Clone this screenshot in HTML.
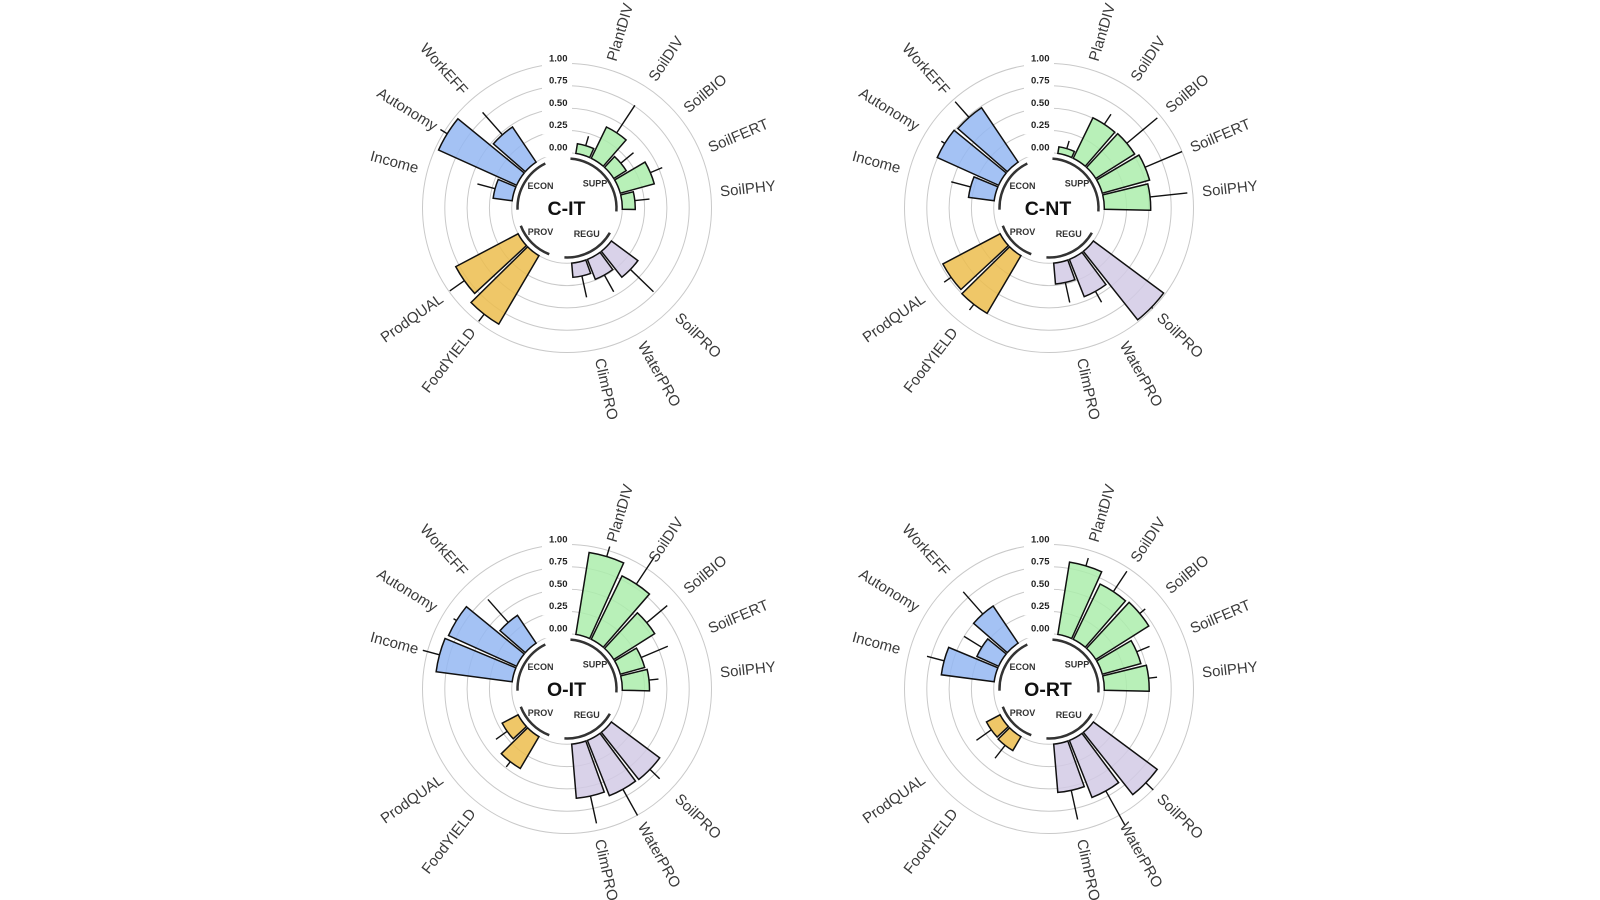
<!DOCTYPE html>
<html>
<head>
<meta charset="utf-8">
<style>
  html, body { margin: 0; padding: 0; background: #ffffff; }
  svg { display: block; }
  .g circle { fill: none; stroke: #c9c9c9; stroke-width: 1; }
  .bk { fill: #ffffff; stroke: none; }
  .tk { font-family: "Liberation Sans", Arial, sans-serif; font-weight: bold; font-size: 9.5px; fill: #222; text-anchor: end; }
  .e path { fill: #94b7f2; fill-opacity: 0.85; stroke: #111; stroke-width: 1.5; stroke-linejoin: miter; }
  .s path { fill: #acedac; fill-opacity: 0.85; stroke: #111; stroke-width: 1.5; }
  .r path { fill: #d2cae5; fill-opacity: 0.85; stroke: #111; stroke-width: 1.5; }
  .p path { fill: #ecbd4d; fill-opacity: 0.85; stroke: #111; stroke-width: 1.5; }
  line { stroke: #111; stroke-width: 1.4; }
  .arc path { fill: none; stroke: #333; stroke-width: 2.5; }
  .gl { font-family: "Liberation Sans", Arial, sans-serif; font-weight: bold; font-size: 9px; fill: #333; text-anchor: middle; }
  .ti { font-family: "Liberation Sans", Arial, sans-serif; font-weight: bold; font-size: 19.5px; fill: #111; text-anchor: middle; }
  .lb { font-family: "Liberation Sans", Arial, sans-serif; font-size: 15px; fill: #3a3a3a; }
  .lb .L { text-anchor: end; }
</style>
</head>
<body>
<svg width="1600" height="900" viewBox="0 0 1600 900" xmlns="http://www.w3.org/2000/svg">
<rect x="0" y="0" width="1600" height="900" fill="#ffffff"/>

<!-- ================= CHART 1 : C-IT ================= -->
<g transform="translate(567,208)">
  <g class="g">
    <circle r="55.3"/><circle r="77.6"/><circle r="99.9"/><circle r="122.2"/><circle r="144.5"/>
  </g>
  <rect class="bk" x="-25" y="-154" width="30" height="13.5"/>
  <rect class="bk" x="-25" y="-131.7" width="30" height="13.5"/>
  <rect class="bk" x="-25" y="-109.4" width="30" height="13.5"/>
  <rect class="bk" x="-25" y="-87.1" width="30" height="13.5"/>
  <rect class="bk" x="-25" y="-64.8" width="30" height="14"/>
  <text class="tk" x="0.5" y="-146.7">1.00</text>
  <text class="tk" x="0.5" y="-124.4">0.75</text>
  <text class="tk" x="0.5" y="-102.1">0.50</text>
  <text class="tk" x="0.5" y="-79.8">0.25</text>
  <text class="tk" x="0.5" y="-57.5">0.00</text>

  <g class="s">
    <g transform="rotate(16.7)"><path d="M-7.22,-54.83L-8.50,-64.55A65.11,65.11 0 0 1 8.50,-64.55L7.22,-54.83A55.3,55.3 0 0 0 -7.22,-54.83Z"/><line x1="0" y1="-65.11" x2="0" y2="-74.92"/></g>
    <g transform="rotate(33.47)"><path d="M-7.22,-54.83L-11.76,-89.32A90.09,90.09 0 0 1 11.76,-89.32L7.22,-54.83A55.3,55.3 0 0 0 -7.22,-54.83Z"/><line x1="0" y1="-90.09" x2="0" y2="-123.09"/></g>
    <g transform="rotate(50.24)"><path d="M-7.22,-54.83L-9.14,-69.42A70.02,70.02 0 0 1 9.14,-69.42L7.22,-54.83A55.3,55.3 0 0 0 -7.22,-54.83Z"/><line x1="0" y1="-70.02" x2="0" y2="-86.52"/></g>
    <g transform="rotate(67.01)"><path d="M-7.22,-54.83L-11.82,-89.76A90.53,90.53 0 0 1 11.82,-89.76L7.22,-54.83A55.3,55.3 0 0 0 -7.22,-54.83Z"/><line x1="0" y1="-90.53" x2="0" y2="-103.47"/></g>
    <g transform="rotate(83.78)"><path d="M-7.22,-54.83L-8.91,-67.65A68.23,68.23 0 0 1 8.91,-67.65L7.22,-54.83A55.3,55.3 0 0 0 -7.22,-54.83Z"/><line x1="0" y1="-68.23" x2="0" y2="-82.95"/></g>
  </g>
  <g class="r">
    <g transform="rotate(134.09)"><path d="M-7.22,-54.83L-11.53,-87.54A88.3,88.3 0 0 1 11.53,-87.54L7.22,-54.83A55.3,55.3 0 0 0 -7.22,-54.83Z"/><line x1="0" y1="-88.3" x2="0" y2="-120.42"/></g>
    <g transform="rotate(150.86)"><path d="M-7.22,-54.83L-10.01,-76.05A76.71,76.71 0 0 1 10.01,-76.05L7.22,-54.83A55.3,55.3 0 0 0 -7.22,-54.83Z"/><line x1="0" y1="-76.71" x2="0" y2="-95.89"/></g>
    <g transform="rotate(167.63)"><path d="M-7.22,-54.83L-9.08,-68.97A69.57,69.57 0 0 1 9.08,-68.97L7.22,-54.83A55.3,55.3 0 0 0 -7.22,-54.83Z"/><line x1="0" y1="-69.57" x2="0" y2="-91.43"/></g>
  </g>
  <g class="p">
    <g transform="rotate(217.94)"><path d="M-7.22,-54.83L-17.58,-133.54A134.69,134.69 0 0 1 17.58,-133.54L7.22,-54.83A55.3,55.3 0 0 0 -7.22,-54.83Z"/><line x1="0" y1="-134.69" x2="0" y2="-143.61"/></g>
    <g transform="rotate(234.71)"><path d="M-7.22,-54.83L-16.42,-124.69A125.77,125.77 0 0 1 16.42,-124.69L7.22,-54.83A55.3,55.3 0 0 0 -7.22,-54.83Z"/><line x1="0" y1="-125.77" x2="0" y2="-143.61"/></g>
  </g>
  <g class="e">
    <g transform="rotate(285.02)"><path d="M-7.22,-54.83L-9.72,-73.84A74.48,74.48 0 0 1 9.72,-73.84L7.22,-54.83A55.3,55.3 0 0 0 -7.22,-54.83Z"/><line x1="0" y1="-74.48" x2="0" y2="-92.76"/></g>
    <g transform="rotate(301.79)"><path d="M-7.22,-54.83L-18.40,-139.72A140.93,140.93 0 0 1 18.40,-139.72L7.22,-54.83A55.3,55.3 0 0 0 -7.22,-54.83Z"/><line x1="0" y1="-140.93" x2="0" y2="-148.96"/></g>
    <g transform="rotate(318.56)"><path d="M-7.22,-54.83L-12.75,-96.83A97.67,97.67 0 0 1 12.75,-96.83L7.22,-54.83A55.3,55.3 0 0 0 -7.22,-54.83Z"/><line x1="0" y1="-97.67" x2="0" y2="-127.55"/></g>
  </g>

  <g class="arc">
    <path transform="rotate(49)" d="M-35,-35A49.5,49.5 0 0 1 35,-35"/>
    <path transform="rotate(151.5)" d="M-25.86,-42.21A49.5,49.5 0 0 1 25.86,-42.21"/>
    <path transform="rotate(225)" d="M-20.13,-45.22A49.5,49.5 0 0 1 20.13,-45.22"/>
    <path transform="rotate(301)" d="M-26.96,-41.51A49.5,49.5 0 0 1 26.96,-41.51"/>
  </g>
  <text class="gl" x="-26.5" y="-18.8">ECON</text>
  <text class="gl" x="28" y="-21.4">SUPP</text>
  <text class="gl" x="-26.5" y="27">PROV</text>
  <text class="gl" x="19.7" y="29.2">REGU</text>
  <text class="ti" x="-0.5" y="6.8">C-IT</text>

  <g class="lb">
    <text transform="rotate(-73.3)" x="154" y="0" dy="0.35em">PlantDIV</text>
    <text transform="rotate(-56.53)" x="154" y="0" dy="0.35em">SoilDIV</text>
    <text transform="rotate(-39.76)" x="154" y="0" dy="0.35em">SoilBIO</text>
    <text transform="rotate(-22.99)" x="154" y="0" dy="0.35em">SoilFERT</text>
    <text transform="rotate(-6.22)" x="154" y="0" dy="0.35em">SoilPHY</text>
    <text transform="rotate(44.09)" x="154" y="0" dy="0.35em">SoilPRO</text>
    <text transform="rotate(60.86)" x="154" y="0" dy="0.35em">WaterPRO</text>
    <text transform="rotate(77.63)" x="154" y="0" dy="0.35em">ClimPRO</text>
    <text class="L" transform="rotate(-52.06)" x="-154" y="0" dy="0.35em">FoodYIELD</text>
    <text class="L" transform="rotate(-35.29)" x="-154" y="0" dy="0.35em">ProdQUAL</text>
    <text class="L" transform="rotate(15.02)" x="-154" y="0" dy="0.35em">Income</text>
    <text class="L" transform="rotate(31.79)" x="-154" y="0" dy="0.35em">Autonomy</text>
    <text class="L" transform="rotate(48.56)" x="-154" y="0" dy="0.35em">WorkEFF</text>
  </g>
</g>

<!-- ================= CHART 2 : C-NT ================= -->
<g transform="translate(1049,208)">
  <g class="g">
    <circle r="55.3"/><circle r="77.6"/><circle r="99.9"/><circle r="122.2"/><circle r="144.5"/>
  </g>
  <rect class="bk" x="-25" y="-154" width="30" height="13.5"/>
  <rect class="bk" x="-25" y="-131.7" width="30" height="13.5"/>
  <rect class="bk" x="-25" y="-109.4" width="30" height="13.5"/>
  <rect class="bk" x="-25" y="-87.1" width="30" height="13.5"/>
  <rect class="bk" x="-25" y="-64.8" width="30" height="14"/>
  <text class="tk" x="0.5" y="-146.7">1.00</text>
  <text class="tk" x="0.5" y="-124.4">0.75</text>
  <text class="tk" x="0.5" y="-102.1">0.50</text>
  <text class="tk" x="0.5" y="-79.8">0.25</text>
  <text class="tk" x="0.5" y="-57.5">0.00</text>

  <g class="s">
    <g transform="rotate(16.7)"><path d="M-7.22,-54.83L-8.09,-61.46A61.99,61.99 0 0 1 8.09,-61.46L7.22,-54.83A55.3,55.3 0 0 0 -7.22,-54.83Z"/><line x1="0" y1="-61.99" x2="0" y2="-70.02"/></g>
    <g transform="rotate(33.47)"><path d="M-7.22,-54.83L-13.10,-99.49A100.35,100.35 0 0 1 13.10,-99.49L7.22,-54.83A55.3,55.3 0 0 0 -7.22,-54.83Z"/><line x1="0" y1="-100.35" x2="0" y2="-112.39"/></g>
    <g transform="rotate(50.24)"><path d="M-7.22,-54.83L-13.21,-100.37A101.24,101.24 0 0 1 13.21,-100.37L7.22,-54.83A55.3,55.3 0 0 0 -7.22,-54.83Z"/><line x1="0" y1="-101.24" x2="0" y2="-140.93"/></g>
    <g transform="rotate(67.01)"><path d="M-7.22,-54.83L-13.62,-103.47A104.36,104.36 0 0 1 13.62,-103.47L7.22,-54.83A55.3,55.3 0 0 0 -7.22,-54.83Z"/><line x1="0" y1="-104.36" x2="0" y2="-144.5"/></g>
    <g transform="rotate(83.78)"><path d="M-7.22,-54.83L-13.27,-100.81A101.68,101.68 0 0 1 13.27,-100.81L7.22,-54.83A55.3,55.3 0 0 0 -7.22,-54.83Z"/><line x1="0" y1="-101.68" x2="0" y2="-139.15"/></g>
  </g>
  <g class="r">
    <g transform="rotate(134.09)"><path d="M-7.22,-54.83L-18.63,-141.50A142.72,142.72 0 0 1 18.63,-141.50L7.22,-54.83A55.3,55.3 0 0 0 -7.22,-54.83Z"/><line x1="0" y1="-142.72" x2="0" y2="-144.3"/></g>
    <g transform="rotate(150.86)"><path d="M-7.22,-54.83L-12.46,-94.62A95.44,95.44 0 0 1 12.46,-94.62L7.22,-54.83A55.3,55.3 0 0 0 -7.22,-54.83Z"/><line x1="0" y1="-95.44" x2="0" y2="-107.93"/></g>
    <g transform="rotate(167.63)"><path d="M-7.22,-54.83L-9.95,-75.61A76.26,76.26 0 0 1 9.95,-75.61L7.22,-54.83A55.3,55.3 0 0 0 -7.22,-54.83Z"/><line x1="0" y1="-76.26" x2="0" y2="-96.78"/></g>
  </g>
  <g class="p">
    <g transform="rotate(217.94)"><path d="M-7.22,-54.83L-15.95,-121.15A122.2,122.2 0 0 1 15.95,-121.15L7.22,-54.83A55.3,55.3 0 0 0 -7.22,-54.83Z"/><line x1="0" y1="-122.2" x2="0" y2="-129.34"/></g>
    <g transform="rotate(234.71)"><path d="M-7.22,-54.83L-15.66,-118.94A119.97,119.97 0 0 1 15.66,-118.94L7.22,-54.83A55.3,55.3 0 0 0 -7.22,-54.83Z"/><line x1="0" y1="-119.97" x2="0" y2="-128.44"/></g>
  </g>
  <g class="e">
    <g transform="rotate(285.02)"><path d="M-7.22,-54.83L-10.60,-80.48A81.17,81.17 0 0 1 10.60,-80.48L7.22,-54.83A55.3,55.3 0 0 0 -7.22,-54.83Z"/><line x1="0" y1="-81.17" x2="0" y2="-101.24"/></g>
    <g transform="rotate(301.79)"><path d="M-7.22,-54.83L-16.01,-121.60A122.65,122.65 0 0 1 16.01,-121.60L7.22,-54.83A55.3,55.3 0 0 0 -7.22,-54.83Z"/><line x1="0" y1="-122.65" x2="0" y2="-126.66"/></g>
    <g transform="rotate(318.56)"><path d="M-7.22,-54.83L-15.78,-119.83A120.86,120.86 0 0 1 15.78,-119.83L7.22,-54.83A55.3,55.3 0 0 0 -7.22,-54.83Z"/><line x1="0" y1="-120.86" x2="0" y2="-141.82"/></g>
  </g>

  <g class="arc">
    <path transform="rotate(49)" d="M-35,-35A49.5,49.5 0 0 1 35,-35"/>
    <path transform="rotate(151.5)" d="M-25.86,-42.21A49.5,49.5 0 0 1 25.86,-42.21"/>
    <path transform="rotate(225)" d="M-20.13,-45.22A49.5,49.5 0 0 1 20.13,-45.22"/>
    <path transform="rotate(301)" d="M-26.96,-41.51A49.5,49.5 0 0 1 26.96,-41.51"/>
  </g>
  <text class="gl" x="-26.5" y="-18.8">ECON</text>
  <text class="gl" x="28" y="-21.4">SUPP</text>
  <text class="gl" x="-26.5" y="27">PROV</text>
  <text class="gl" x="19.7" y="29.2">REGU</text>
  <text class="ti" x="-1" y="6.8">C-NT</text>

  <g class="lb">
    <text transform="rotate(-73.3)" x="154" y="0" dy="0.35em">PlantDIV</text>
    <text transform="rotate(-56.53)" x="154" y="0" dy="0.35em">SoilDIV</text>
    <text transform="rotate(-39.76)" x="154" y="0" dy="0.35em">SoilBIO</text>
    <text transform="rotate(-22.99)" x="154" y="0" dy="0.35em">SoilFERT</text>
    <text transform="rotate(-6.22)" x="154" y="0" dy="0.35em">SoilPHY</text>
    <text transform="rotate(44.09)" x="154" y="0" dy="0.35em">SoilPRO</text>
    <text transform="rotate(60.86)" x="154" y="0" dy="0.35em">WaterPRO</text>
    <text transform="rotate(77.63)" x="154" y="0" dy="0.35em">ClimPRO</text>
    <text class="L" transform="rotate(-52.06)" x="-154" y="0" dy="0.35em">FoodYIELD</text>
    <text class="L" transform="rotate(-35.29)" x="-154" y="0" dy="0.35em">ProdQUAL</text>
    <text class="L" transform="rotate(15.02)" x="-154" y="0" dy="0.35em">Income</text>
    <text class="L" transform="rotate(31.79)" x="-154" y="0" dy="0.35em">Autonomy</text>
    <text class="L" transform="rotate(48.56)" x="-154" y="0" dy="0.35em">WorkEFF</text>
  </g>
</g>

<!-- ================= CHART 3 : O-IT ================= -->
<g transform="translate(567,689)">
  <g class="g">
    <circle r="55.3"/><circle r="77.6"/><circle r="99.9"/><circle r="122.2"/><circle r="144.5"/>
  </g>
  <rect class="bk" x="-25" y="-154" width="30" height="13.5"/>
  <rect class="bk" x="-25" y="-131.7" width="30" height="13.5"/>
  <rect class="bk" x="-25" y="-109.4" width="30" height="13.5"/>
  <rect class="bk" x="-25" y="-87.1" width="30" height="13.5"/>
  <rect class="bk" x="-25" y="-64.8" width="30" height="14"/>
  <text class="tk" x="0.5" y="-146.7">1.00</text>
  <text class="tk" x="0.5" y="-124.4">0.75</text>
  <text class="tk" x="0.5" y="-102.1">0.50</text>
  <text class="tk" x="0.5" y="-79.8">0.25</text>
  <text class="tk" x="0.5" y="-57.5">0.00</text>

  <g class="s">
    <g transform="rotate(16.7)"><path d="M-7.22,-54.83L-18.05,-137.08A138.26,138.26 0 0 1 18.05,-137.08L7.22,-54.83A55.3,55.3 0 0 0 -7.22,-54.83Z"/><line x1="0" y1="-138.26" x2="0" y2="-148.7"/></g>
    <g transform="rotate(33.47)"><path d="M-7.22,-54.83L-16.42,-124.69A125.77,125.77 0 0 1 16.42,-124.69L7.22,-54.83A55.3,55.3 0 0 0 -7.22,-54.83Z"/><line x1="0" y1="-125.77" x2="0" y2="-158"/></g>
    <g transform="rotate(50.24)"><path d="M-7.22,-54.83L-13.54,-102.81A103.7,103.7 0 0 1 13.54,-102.81L7.22,-54.83A55.3,55.3 0 0 0 -7.22,-54.83Z"/><line x1="0" y1="-103.7" x2="0" y2="-130.4"/></g>
    <g transform="rotate(67.01)"><path d="M-7.22,-54.83L-10.52,-79.91A80.6,80.6 0 0 1 10.52,-79.91L7.22,-54.83A55.3,55.3 0 0 0 -7.22,-54.83Z"/><line x1="0" y1="-80.6" x2="0" y2="-109.5"/></g>
    <g transform="rotate(83.78)"><path d="M-7.22,-54.83L-10.77,-81.79A82.5,82.5 0 0 1 10.77,-81.79L7.22,-54.83A55.3,55.3 0 0 0 -7.22,-54.83Z"/><line x1="0" y1="-82.5" x2="0" y2="-92"/></g>
  </g>
  <g class="r">
    <g transform="rotate(134.09)"><path d="M-7.22,-54.83L-15.08,-114.51A115.5,115.5 0 0 1 15.08,-114.51L7.22,-54.83A55.3,55.3 0 0 0 -7.22,-54.83Z"/><line x1="0" y1="-115.5" x2="0" y2="-129"/></g>
    <g transform="rotate(150.86)"><path d="M-7.22,-54.83L-14.98,-113.82A114.8,114.8 0 0 1 14.98,-113.82L7.22,-54.83A55.3,55.3 0 0 0 -7.22,-54.83Z"/><line x1="0" y1="-114.8" x2="0" y2="-144.8"/></g>
    <g transform="rotate(167.63)"><path d="M-7.22,-54.83L-14.31,-108.66A109.6,109.6 0 0 1 14.31,-108.66L7.22,-54.83A55.3,55.3 0 0 0 -7.22,-54.83Z"/><line x1="0" y1="-109.6" x2="0" y2="-137.6"/></g>
  </g>
  <g class="p">
    <g transform="rotate(217.94)"><path d="M-7.22,-54.83L-12.03,-91.41A92.2,92.2 0 0 1 12.03,-91.41L7.22,-54.83A55.3,55.3 0 0 0 -7.22,-54.83Z"/><line x1="0" y1="-92.2" x2="0" y2="-98.8"/></g>
    <g transform="rotate(234.71)"><path d="M-7.22,-54.83L-9.57,-72.67A73.3,73.3 0 0 1 9.57,-72.67L7.22,-54.83A55.3,55.3 0 0 0 -7.22,-54.83Z"/><line x1="0" y1="-73.3" x2="0" y2="-87"/></g>
  </g>
  <g class="e">
    <g transform="rotate(285.02)"><path d="M-7.22,-54.83L-17.23,-130.87A132,132 0 0 1 17.23,-130.87L7.22,-54.83A55.3,55.3 0 0 0 -7.22,-54.83Z"/><line x1="0" y1="-132" x2="0" y2="-149.3"/></g>
    <g transform="rotate(301.79)"><path d="M-7.22,-54.83L-16.97,-128.89A130,130 0 0 1 16.97,-128.89L7.22,-54.83A55.3,55.3 0 0 0 -7.22,-54.83Z"/><line x1="0" y1="-130" x2="0" y2="-133.5"/></g>
    <g transform="rotate(318.56)"><path d="M-7.22,-54.83L-11.59,-88.04A88.8,88.8 0 0 1 11.59,-88.04L7.22,-54.83A55.3,55.3 0 0 0 -7.22,-54.83Z"/><line x1="0" y1="-88.8" x2="0" y2="-119.5"/></g>
  </g>

  <g class="arc">
    <path transform="rotate(49)" d="M-35,-35A49.5,49.5 0 0 1 35,-35"/>
    <path transform="rotate(151.5)" d="M-25.86,-42.21A49.5,49.5 0 0 1 25.86,-42.21"/>
    <path transform="rotate(225)" d="M-20.13,-45.22A49.5,49.5 0 0 1 20.13,-45.22"/>
    <path transform="rotate(301)" d="M-26.96,-41.51A49.5,49.5 0 0 1 26.96,-41.51"/>
  </g>
  <text class="gl" x="-26.5" y="-18.8">ECON</text>
  <text class="gl" x="28" y="-21.4">SUPP</text>
  <text class="gl" x="-26.5" y="27">PROV</text>
  <text class="gl" x="19.7" y="29.2">REGU</text>
  <text class="ti" x="-0.5" y="6.8">O-IT</text>

  <g class="lb">
    <text transform="rotate(-73.3)" x="154" y="0" dy="0.35em">PlantDIV</text>
    <text transform="rotate(-56.53)" x="154" y="0" dy="0.35em">SoilDIV</text>
    <text transform="rotate(-39.76)" x="154" y="0" dy="0.35em">SoilBIO</text>
    <text transform="rotate(-22.99)" x="154" y="0" dy="0.35em">SoilFERT</text>
    <text transform="rotate(-6.22)" x="154" y="0" dy="0.35em">SoilPHY</text>
    <text transform="rotate(44.09)" x="154" y="0" dy="0.35em">SoilPRO</text>
    <text transform="rotate(60.86)" x="154" y="0" dy="0.35em">WaterPRO</text>
    <text transform="rotate(77.63)" x="154" y="0" dy="0.35em">ClimPRO</text>
    <text class="L" transform="rotate(-52.06)" x="-154" y="0" dy="0.35em">FoodYIELD</text>
    <text class="L" transform="rotate(-35.29)" x="-154" y="0" dy="0.35em">ProdQUAL</text>
    <text class="L" transform="rotate(15.02)" x="-154" y="0" dy="0.35em">Income</text>
    <text class="L" transform="rotate(31.79)" x="-154" y="0" dy="0.35em">Autonomy</text>
    <text class="L" transform="rotate(48.56)" x="-154" y="0" dy="0.35em">WorkEFF</text>
  </g>
</g>

<!-- ================= CHART 4 : O-RT ================= -->
<g transform="translate(1049,689)">
  <g class="g">
    <circle r="55.3"/><circle r="77.6"/><circle r="99.9"/><circle r="122.2"/><circle r="144.5"/>
  </g>
  <rect class="bk" x="-25" y="-154" width="30" height="13.5"/>
  <rect class="bk" x="-25" y="-131.7" width="30" height="13.5"/>
  <rect class="bk" x="-25" y="-109.4" width="30" height="13.5"/>
  <rect class="bk" x="-25" y="-87.1" width="30" height="13.5"/>
  <rect class="bk" x="-25" y="-64.8" width="30" height="14"/>
  <text class="tk" x="0.5" y="-146.7">1.00</text>
  <text class="tk" x="0.5" y="-124.4">0.75</text>
  <text class="tk" x="0.5" y="-102.1">0.50</text>
  <text class="tk" x="0.5" y="-79.8">0.25</text>
  <text class="tk" x="0.5" y="-57.5">0.00</text>

  <g class="s">
    <g transform="rotate(16.7)"><path d="M-7.22,-54.83L-16.77,-127.40A128.5,128.5 0 0 1 16.77,-127.40L7.22,-54.83A55.3,55.3 0 0 0 -7.22,-54.83Z"/><line x1="0" y1="-128.5" x2="0" y2="-136.7"/></g>
    <g transform="rotate(33.47)"><path d="M-7.22,-54.83L-15.23,-115.70A116.7,116.7 0 0 1 15.23,-115.70L7.22,-54.83A55.3,55.3 0 0 0 -7.22,-54.83Z"/><line x1="0" y1="-116.7" x2="0" y2="-141.2"/></g>
    <g transform="rotate(50.24)"><path d="M-7.22,-54.83L-15.40,-116.99A118,118 0 0 1 15.40,-116.99L7.22,-54.83A55.3,55.3 0 0 0 -7.22,-54.83Z"/><line x1="0" y1="-118" x2="0" y2="-125.2"/></g>
    <g transform="rotate(67.01)"><path d="M-7.22,-54.83L-12.44,-94.48A95.3,95.3 0 0 1 12.44,-94.48L7.22,-54.83A55.3,55.3 0 0 0 -7.22,-54.83Z"/><line x1="0" y1="-95.3" x2="0" y2="-109.2"/></g>
    <g transform="rotate(83.78)"><path d="M-7.22,-54.83L-13.08,-99.34A100.2,100.2 0 0 1 13.08,-99.34L7.22,-54.83A55.3,55.3 0 0 0 -7.22,-54.83Z"/><line x1="0" y1="-100.2" x2="0" y2="-108.7"/></g>
  </g>
  <g class="r">
    <g transform="rotate(134.09)"><path d="M-7.22,-54.83L-17.60,-133.65A134.8,134.8 0 0 1 17.60,-133.65L7.22,-54.83A55.3,55.3 0 0 0 -7.22,-54.83Z"/><line x1="0" y1="-134.8" x2="0" y2="-145.2"/></g>
    <g transform="rotate(150.86)"><path d="M-7.22,-54.83L-15.23,-115.70A116.7,116.7 0 0 1 15.23,-115.70L7.22,-54.83A55.3,55.3 0 0 0 -7.22,-54.83Z"/><line x1="0" y1="-116.7" x2="0" y2="-155.5"/></g>
    <g transform="rotate(167.63)"><path d="M-7.22,-54.83L-13.55,-102.91A103.8,103.8 0 0 1 13.55,-102.91L7.22,-54.83A55.3,55.3 0 0 0 -7.22,-54.83Z"/><line x1="0" y1="-103.8" x2="0" y2="-133.6"/></g>
  </g>
  <g class="p">
    <g transform="rotate(217.94)"><path d="M-7.22,-54.83L-9.32,-70.79A71.4,71.4 0 0 1 9.32,-70.79L7.22,-54.83A55.3,55.3 0 0 0 -7.22,-54.83Z"/><line x1="0" y1="-71.4" x2="0" y2="-87.8"/></g>
    <g transform="rotate(234.71)"><path d="M-7.22,-54.83L-9.23,-70.09A70.7,70.7 0 0 1 9.23,-70.09L7.22,-54.83A55.3,55.3 0 0 0 -7.22,-54.83Z"/><line x1="0" y1="-70.7" x2="0" y2="-88.9"/></g>
  </g>
  <g class="e">
    <g transform="rotate(285.02)"><path d="M-7.22,-54.83L-14.18,-107.67A108.6,108.6 0 0 1 14.18,-107.67L7.22,-54.83A55.3,55.3 0 0 0 -7.22,-54.83Z"/><line x1="0" y1="-108.6" x2="0" y2="-126.3"/></g>
    <g transform="rotate(301.79)"><path d="M-7.22,-54.83L-10.33,-78.42A79.1,79.1 0 0 1 10.33,-78.42L7.22,-54.83A55.3,55.3 0 0 0 -7.22,-54.83Z"/><line x1="0" y1="-79.1" x2="0" y2="-99.9"/></g>
    <g transform="rotate(318.56)"><path d="M-7.22,-54.83L-13.05,-99.14A100,100 0 0 1 13.05,-99.14L7.22,-54.83A55.3,55.3 0 0 0 -7.22,-54.83Z"/><line x1="0" y1="-100" x2="0" y2="-129.6"/></g>
  </g>

  <g class="arc">
    <path transform="rotate(49)" d="M-35,-35A49.5,49.5 0 0 1 35,-35"/>
    <path transform="rotate(151.5)" d="M-25.86,-42.21A49.5,49.5 0 0 1 25.86,-42.21"/>
    <path transform="rotate(225)" d="M-20.13,-45.22A49.5,49.5 0 0 1 20.13,-45.22"/>
    <path transform="rotate(301)" d="M-26.96,-41.51A49.5,49.5 0 0 1 26.96,-41.51"/>
  </g>
  <text class="gl" x="-26.5" y="-18.8">ECON</text>
  <text class="gl" x="28" y="-21.4">SUPP</text>
  <text class="gl" x="-26.5" y="27">PROV</text>
  <text class="gl" x="19.7" y="29.2">REGU</text>
  <text class="ti" x="-1" y="6.8">O-RT</text>

  <g class="lb">
    <text transform="rotate(-73.3)" x="154" y="0" dy="0.35em">PlantDIV</text>
    <text transform="rotate(-56.53)" x="154" y="0" dy="0.35em">SoilDIV</text>
    <text transform="rotate(-39.76)" x="154" y="0" dy="0.35em">SoilBIO</text>
    <text transform="rotate(-22.99)" x="154" y="0" dy="0.35em">SoilFERT</text>
    <text transform="rotate(-6.22)" x="154" y="0" dy="0.35em">SoilPHY</text>
    <text transform="rotate(44.09)" x="154" y="0" dy="0.35em">SoilPRO</text>
    <text transform="rotate(60.86)" x="154" y="0" dy="0.35em">WaterPRO</text>
    <text transform="rotate(77.63)" x="154" y="0" dy="0.35em">ClimPRO</text>
    <text class="L" transform="rotate(-52.06)" x="-154" y="0" dy="0.35em">FoodYIELD</text>
    <text class="L" transform="rotate(-35.29)" x="-154" y="0" dy="0.35em">ProdQUAL</text>
    <text class="L" transform="rotate(15.02)" x="-154" y="0" dy="0.35em">Income</text>
    <text class="L" transform="rotate(31.79)" x="-154" y="0" dy="0.35em">Autonomy</text>
    <text class="L" transform="rotate(48.56)" x="-154" y="0" dy="0.35em">WorkEFF</text>
  </g>
</g>

</svg>
</body>
</html>
